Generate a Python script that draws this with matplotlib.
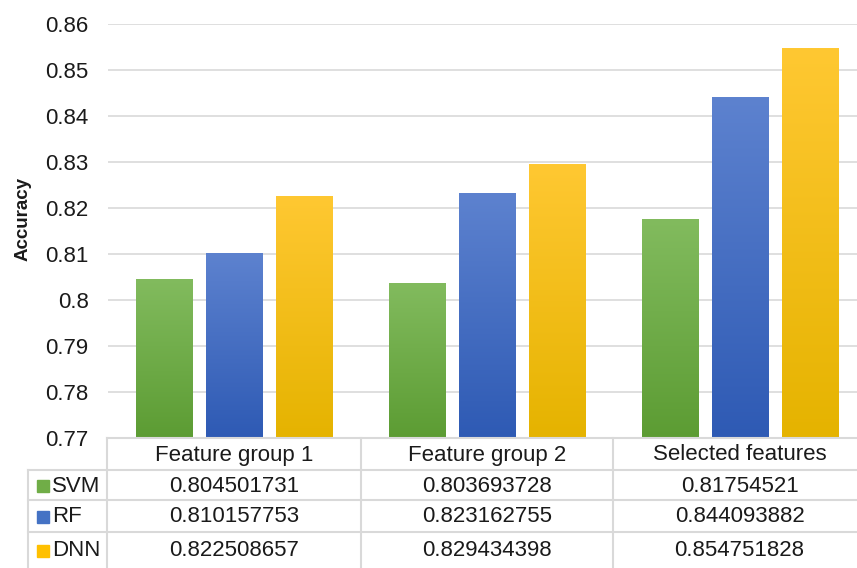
import numpy as np
import matplotlib
matplotlib.use("Agg")
import matplotlib.pyplot as plt
from matplotlib.lines import Line2D
from matplotlib.patches import Rectangle
from matplotlib.colors import LinearSegmentedColormap

categories = ["Feature group 1", "Feature group 2", "Selected features"]
series_names = ["SVM", "RF", "DNN"]
svm = [0.804501731, 0.803693728, 0.81754521]
rf = [0.810157753, 0.823162755, 0.844093882]
dnn = [0.822508657, 0.829434398, 0.854751828]
series_values = [svm, rf, dnn]
value_labels = [["0.804501731", "0.803693728", "0.81754521"],
                ["0.810157753", "0.823162755", "0.844093882"],
                ["0.822508657", "0.829434398", "0.854751828"]]
yticks = [0.77, 0.78, 0.79, 0.80, 0.81, 0.82, 0.83, 0.84, 0.85, 0.86]
ytick_labels = ["0.77", "0.78", "0.79", "0.8", "0.81", "0.82", "0.83", "0.84", "0.85", "0.86"]

# (top colour, bottom colour) for each series gradient
gradients = [("#82bb5e", "#5c9c33"), ("#5d82cf", "#2e5ab4"), ("#ffc832", "#e5b300")]
key_colors = ["#70ad47", "#4472c4", "#ffc000"]
text_c = "#1a1a1a"

W, H = 857, 568
plt.rcParams["font.family"] = ["Liberation Sans", "DejaVu Sans"]
fig = plt.figure(figsize=(W / 100, H / 100), dpi=100)

def fx(px):
    return px / W

def fy(py):
    return 1 - py / H

# plot area runs slightly past the right edge of the canvas
ax_left, ax_right, ax_top, ax_bot = 108, 866, 24, 438
ax = fig.add_axes([fx(ax_left), fy(ax_bot), fx(ax_right - ax_left), (ax_bot - ax_top) / H])
for s in ax.spines.values():
    s.set_visible(False)
ax.set_xticks([])
ax.set_yticks(yticks)
ax.set_yticklabels(ytick_labels, fontsize=16, color=text_c)
ax.tick_params(axis="y", length=0, pad=14)
for t in yticks:
    ax.axhline(t, color="#d9d9d9", lw=1.2, zorder=0)

bar_w = 0.222
offsets = [-0.277, 0.0, 0.277]
grad = np.linspace(0, 1, 256).reshape(-1, 1)
for si, vals in enumerate(series_values):
    cmap = LinearSegmentedColormap.from_list("g%d" % si, [gradients[si][1], gradients[si][0]])
    for ci, v in enumerate(vals):
        xc = ci + 0.5 + offsets[si]
        ax.imshow(grad, cmap=cmap, origin="lower", aspect="auto",
                  extent=[xc - bar_w / 2, xc + bar_w / 2, 0.77, v], zorder=2)
ax.set_xlim(0, 3)
ax.set_ylim(0.77, 0.86)

fig.text(fx(23), fy(219), "Accuracy", rotation=90, ha="center", va="center",
         fontsize=13.5, fontweight="bold", color=text_c)

# data table below the plot area
grid_c = "#d9d9d9"
col_x = [28, 107, 361, 613, 866]
row_y = [438, 470, 500, 532, 568]

def hline(y, x0, x1):
    fig.add_artist(Line2D([fx(x0), fx(x1)], [fy(y), fy(y)], color=grid_c, lw=1.5))

def vline(x, y0, y1):
    fig.add_artist(Line2D([fx(x), fx(x)], [fy(y0), fy(y1)], color=grid_c, lw=1.5))

hline(438, 107, 866)
for y in row_y[1:4]:
    hline(y, 28, 866)
vline(28, 470, 568)
for x in col_x[1:4]:
    vline(x, 438, 568)

for ci, cat in enumerate(categories):
    xc = (col_x[ci + 1] + col_x[ci + 2]) / 2
    fig.text(fx(xc), fy((row_y[0] + row_y[1]) / 2 + 1), cat, ha="center", va="center",
             fontsize=16, color=text_c)

for si, name in enumerate(series_names):
    yc = (row_y[si + 1] + row_y[si + 2]) / 2 + 1
    fig.add_artist(Rectangle((fx(37), fy(yc + 6)), fx(12), 12 / H, color=key_colors[si]))
    fig.text(fx(52), fy(yc), name, ha="left", va="center", fontsize=16, color=text_c)
    for ci in range(3):
        xc = (col_x[ci + 1] + col_x[ci + 2]) / 2
        fig.text(fx(xc), fy(yc), value_labels[si][ci], ha="center", va="center",
                 fontsize=16, color=text_c)

fig.savefig("out.png", dpi=100)
